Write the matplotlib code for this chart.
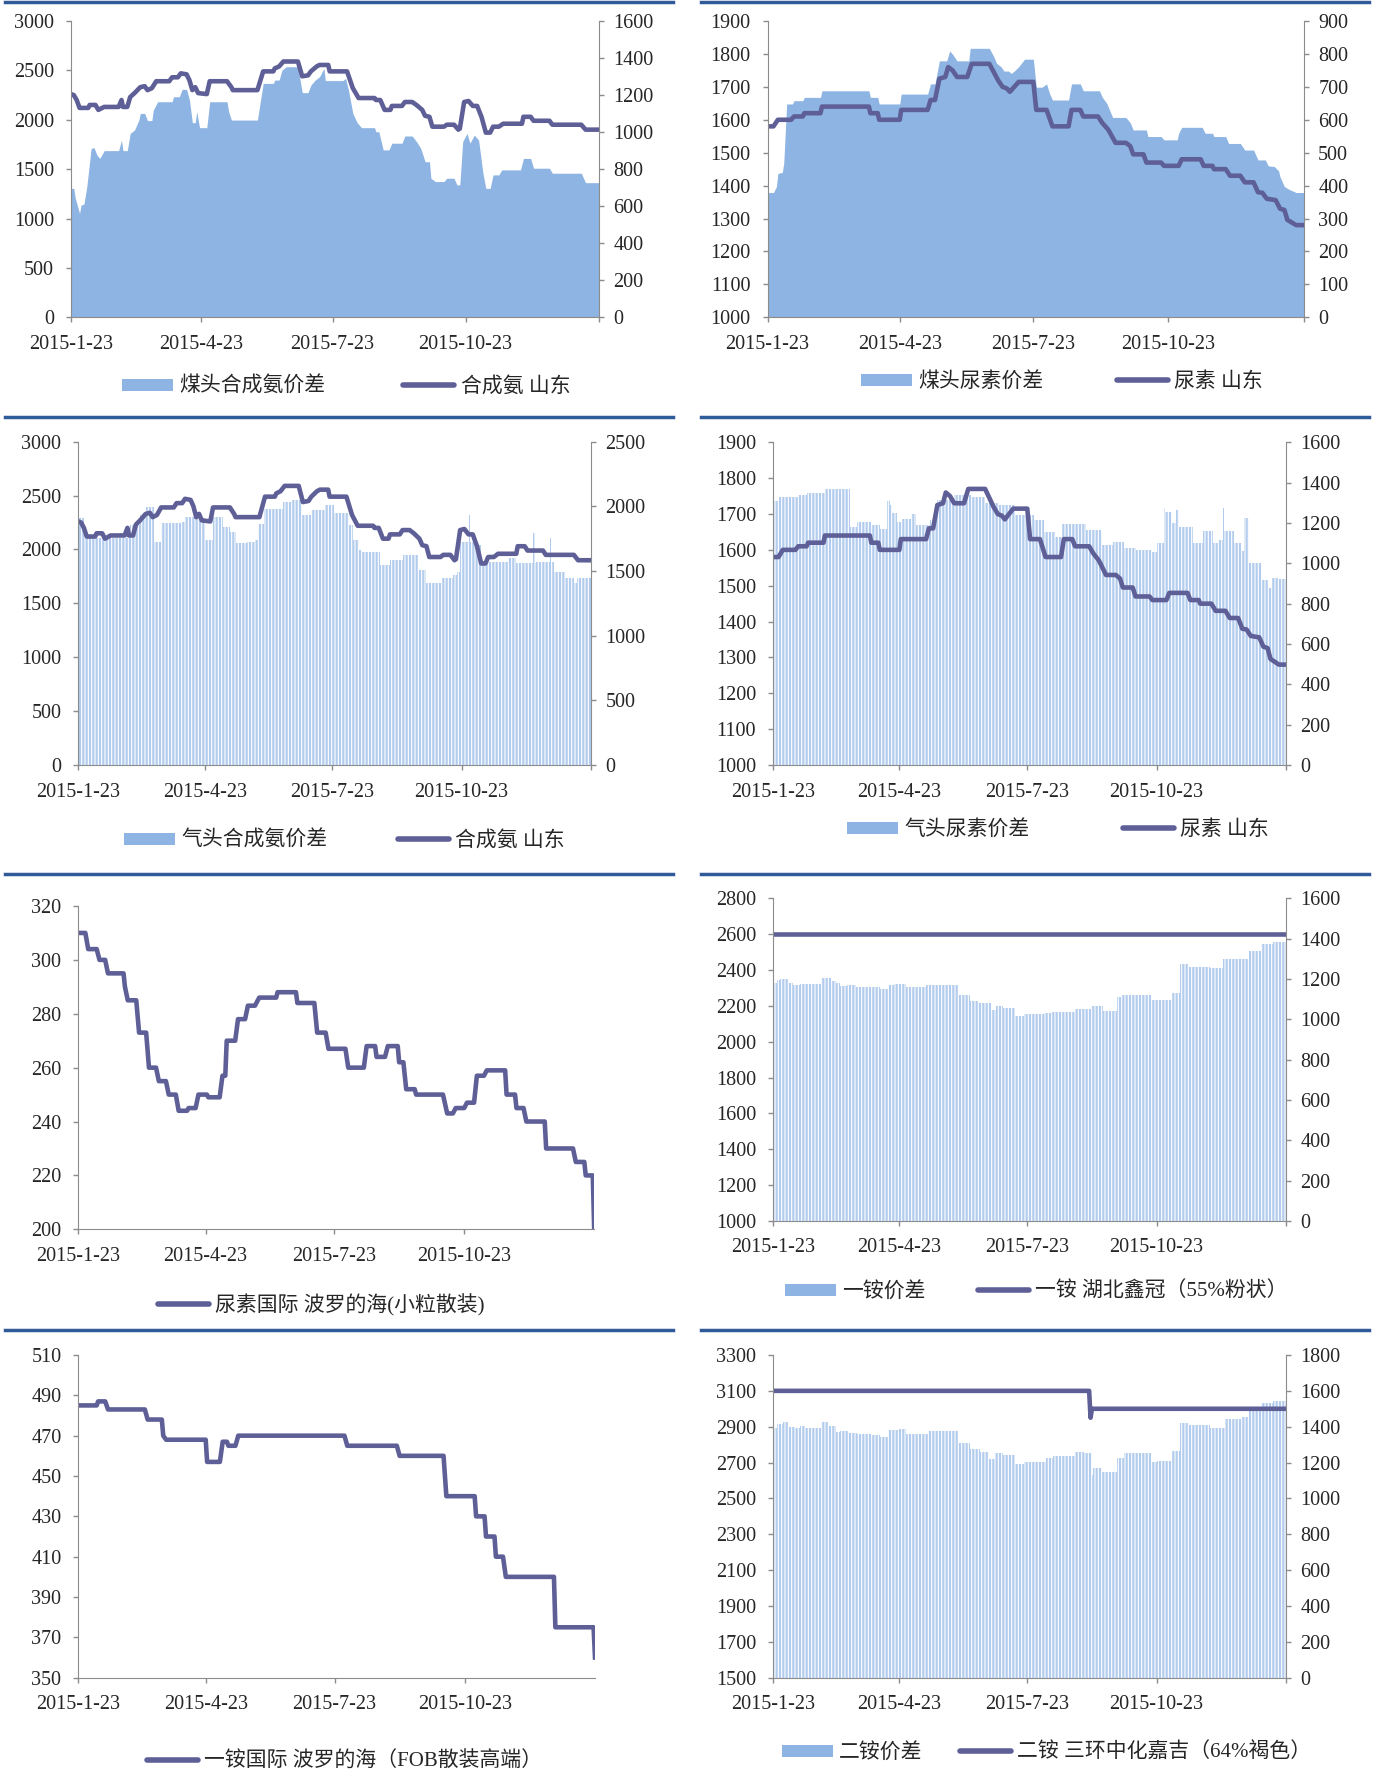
import numpy as np
import matplotlib
matplotlib.use('Agg')
import matplotlib.pyplot as plt
from matplotlib.lines import Line2D
from matplotlib.patches import Patch

plt.rcParams['font.family'] = ['Liberation Serif', 'Noto Sans CJK SC']
plt.rcParams['hatch.linewidth'] = 0.8

W, H = 1381, 1787

# ── x axis: days counted from 2015-01-23 ──────────────────────────────
TICK_DATES = np.array(['2015-01-23', '2015-04-23', '2015-07-23',
                       '2015-10-23', '2016-01-23'], dtype='datetime64[D]')
TICK_LABELS = ['2015-1-23', '2015-4-23', '2015-7-23', '2015-10-23', '']
TICK_DAYS = (TICK_DATES - TICK_DATES[0]).astype(int)

# ── series (day offset, value) ────────────────────────────────────────
# 合成氨 山东 (charts 1 and 3)
NH3_SD_DAY = [0, 2, 4, 6, 12, 13, 17, 19, 23, 33, 35, 36, 39, 41, 44, 48, 51, 53, 56, 59,
              68, 70, 74, 76, 80, 82, 84, 86, 88, 94, 96, 108, 111, 112, 129, 133, 140, 141, 144, 147,
              157, 160, 164, 166, 170, 172, 178, 179, 191, 195, 199, 210, 211, 214, 217, 221, 222, 229, 231, 236,
              239, 243, 245, 248, 250, 258, 260, 265, 268, 269, 272, 275, 278, 281, 284, 287, 290, 292, 296, 299,
              312, 313, 318, 320, 331, 333, 353, 356, 365]
NH3_SD_VAL = [2260, 2250, 2200, 2120, 2120, 2150, 2150, 2100, 2130, 2130, 2200, 2130, 2130, 2230, 2270, 2330, 2340, 2300, 2320, 2390,
              2390, 2430, 2430, 2470, 2460, 2400, 2300, 2330, 2270, 2260, 2390, 2390, 2330, 2300, 2300, 2490, 2490, 2520, 2540, 2590,
              2590, 2440, 2450, 2490, 2540, 2555, 2555, 2490, 2490, 2320, 2220, 2220, 2200, 2200, 2100, 2100, 2140, 2140, 2180, 2180,
              2150, 2100, 2040, 2030, 1930, 1930, 1950, 1950, 1900, 1910, 2180, 2190, 2140, 2140, 2030, 1870, 1870, 1930, 1930, 1960,
              1960, 2030, 2030, 1990, 1990, 1950, 1950, 1900, 1900]

# 煤头合成氨价差 (chart 1, area)
COAL_NH3_DAY = [0, 2, 3, 6, 7, 9, 11, 14, 16, 18, 20, 23, 33, 35, 36, 39, 41, 44, 47, 48,
                51, 53, 56, 57, 60, 70, 71, 75, 77, 80, 82, 84, 86, 87, 89, 94, 96, 108, 109, 111,
                129, 133, 140, 141, 144, 146, 149, 157, 160, 164, 166, 169, 172, 175, 176, 188, 190, 192, 195, 198,
                201, 210, 211, 213, 216, 220, 222, 229, 231, 236, 239, 242, 245, 248, 249, 252, 258, 260, 265, 267,
                269, 271, 274, 276, 279, 282, 285, 287, 290, 292, 296, 298, 311, 313, 318, 320, 331, 333, 353, 356, 365]
COAL_NH3_VAL = [696, 696, 643, 561, 606, 611, 705, 912, 916, 876, 858, 900, 900, 957, 900, 900, 993, 1011, 1065, 1101,
                1101, 1062, 1062, 1119, 1164, 1164, 1191, 1191, 1231, 1231, 1173, 1051, 1051, 1110, 1024, 1024, 1164, 1164, 1114, 1065,
                1065, 1263, 1263, 1281, 1281, 1335, 1353, 1353, 1213, 1213, 1254, 1281, 1299, 1344, 1278, 1278, 1290, 1227, 1101, 1051,
                1024, 1024, 1002, 1002, 904, 904, 940, 940, 979, 979, 949, 912, 840, 840, 751, 733, 733, 751, 751, 715,
                715, 949, 993, 940, 984, 957, 778, 696, 696, 769, 769, 796, 796, 858, 858, 805, 805, 778, 778, 727, 727]

# 尿素 山东 (charts 2 and 4)
UREA_SD_DAY = [0, 4, 7, 16, 18, 24, 25, 36, 37, 69, 70, 75, 76, 90, 91, 109, 111, 114, 117, 121,
               123, 126, 129, 136, 139, 151, 154, 157, 160, 163, 165, 168, 171, 181, 183, 190, 194, 205, 207, 213,
               215, 225, 228, 232, 237, 244, 247, 249, 256, 258, 268, 270, 280, 282, 295, 297, 303, 304, 312, 315,
               322, 325, 331, 334, 337, 340, 346, 349, 352, 354, 357, 360, 365]
UREA_SD_VAL = [1580, 1580, 1600, 1600, 1610, 1610, 1620, 1620, 1640, 1640, 1620, 1620, 1600, 1600, 1630, 1630, 1660, 1660, 1725, 1730,
               1760, 1750, 1730, 1730, 1770, 1770, 1745, 1720, 1700, 1695, 1685, 1700, 1715, 1715, 1630, 1630, 1580, 1580, 1630, 1630,
               1610, 1610, 1590, 1570, 1530, 1530, 1520, 1495, 1495, 1470, 1470, 1460, 1460, 1480, 1480, 1460, 1460, 1450, 1450, 1430,
               1430, 1410, 1410, 1380, 1378, 1360, 1356, 1330, 1326, 1296, 1288, 1280, 1280]

# 煤头尿素价差 (chart 2, area)
COAL_UREA_DAY = [0, 4, 6, 7, 10, 11, 13, 17, 18, 24, 25, 36, 37, 69, 70, 75, 76, 90, 91, 109,
                 111, 114, 117, 122, 124, 126, 129, 137, 138, 151, 154, 156, 159, 161, 164, 166, 168, 171, 175, 181,
                 183, 187, 190, 192, 194, 205, 207, 213, 215, 226, 228, 231, 235, 244, 247, 249, 258, 259, 268, 270,
                 279, 280, 282, 296, 298, 303, 304, 312, 314, 322, 325, 331, 334, 339, 341, 345, 348, 349, 352, 355,
                 360, 365]
COAL_UREA_VAL = [379, 379, 397, 437, 440, 468, 648, 648, 658, 658, 668, 668, 688, 688, 668, 668, 648, 648, 678, 678,
                 709, 709, 779, 779, 809, 799, 779, 779, 817, 817, 792, 771, 761, 748, 748, 741, 748, 761, 784, 784,
                 699, 699, 709, 680, 660, 660, 709, 709, 688, 688, 668, 650, 607, 607, 591, 569, 569, 549, 549, 539,
                 539, 559, 577, 577, 559, 559, 549, 549, 528, 528, 508, 508, 478, 478, 460, 458, 445, 427, 397, 389,
                 379, 379]

# 气头合成氨价差 (chart 3, bars)
GAS_NH3_DAY = [0, 4, 35, 37, 44, 48, 54, 59, 74, 76, 87, 90, 96, 103, 108, 112, 120, 126, 128, 132,
               146, 152, 159, 166, 176, 182, 193, 196, 200, 202, 215, 222, 231, 242, 248, 259, 267, 270, 272, 278,
               279, 283, 287, 306, 312, 324, 325, 326, 336, 337, 339, 347, 353, 355, 365]
GAS_NH3_VAL = [1907, 1752, 1752, 1855, 1933, 1997, 1727, 1868, 1881, 1920, 1910, 1739, 1920, 1843, 1800, 1714, 1725, 1740, 1860, 1977,
               2030, 2049, 1933, 1971, 2010, 1951, 1855, 1740, 1662, 1649, 1546, 1585, 1624, 1507, 1404, 1443, 1470, 1495, 1727, 1933,
               1727, 1700, 1572, 1598, 1559, 1791, 1559, 1572, 1752, 1572, 1495, 1443, 1404, 1443, 1443]

# 气头尿素价差 (chart 4, bars)
GAS_UREA_DAY = [0, 4, 18, 24, 37, 55, 60, 70, 76, 81, 83, 85, 88, 92, 98, 102, 112, 117, 129, 142,
                151, 160, 172, 186, 193, 201, 206, 223, 234, 242, 250, 258, 269, 273, 278, 279, 284, 287, 289, 299,
                306, 313, 317, 320, 321, 328, 333, 335, 339, 347, 352, 355, 360, 365]
GAS_UREA_VAL = [1309, 1327, 1339, 1351, 1369, 1179, 1207, 1190, 1169, 1309, 1289, 1250, 1207, 1220, 1243, 1190, 1215, 1314, 1339, 1327,
                1298, 1289, 1240, 1215, 1157, 1132, 1193, 1165, 1091, 1108, 1078, 1066, 1058, 1099, 1276, 1256, 1198, 1265, 1182, 1099,
                1160, 1099, 1116, 1273, 1160, 1103, 1061, 1227, 1003, 917, 876, 926, 921, 921]

# 尿素国际 波罗的海(小粒散装) (chart 5)
UREA_INT_DAY = [0, 5, 7, 13, 15, 19, 21, 32, 33, 35, 41, 43, 48, 50, 55, 57, 62, 64, 69, 71,
                77, 78, 83, 85, 91, 92, 100, 102, 104, 105, 111, 113, 118, 120, 125, 128, 140, 141, 154, 155,
                167, 169, 175, 177, 189, 191, 202, 204, 210, 211, 217, 219, 226, 227, 230, 232, 238, 239, 258, 261,
                265, 267, 273, 275, 280, 282, 287, 289, 302, 303, 309, 310, 315, 317, 330, 331, 350, 352, 358, 359,
                364, 365]
UREA_INT_VAL = [310, 310, 304, 304, 300, 300, 295, 295, 290, 285, 285, 273, 273, 260, 260, 255, 255, 250, 250, 244,
                244, 245, 245, 250, 250, 249, 249, 257, 257, 270, 270, 278, 278, 283, 283, 286, 286, 288, 288, 284,
                284, 273, 273, 267, 267, 260, 260, 268, 268, 264, 264, 268, 268, 262, 262, 252, 252, 250, 250, 243,
                243, 245, 245, 247, 247, 257, 257, 259, 259, 250, 250, 245, 245, 240, 240, 230, 230, 225, 225, 220,
                220, 200]

# 一铵 湖北鑫冠（55%粉状） and 一铵价差 (chart 6)
MAP_HB_DAY = [0, 365]
MAP_HB_VAL = [2600, 2600]
MAP_SPREAD_DAY = [0, 3, 5, 11, 14, 19, 34, 41, 45, 48, 53, 59, 76, 82, 86, 95, 109, 132, 140, 146,
                  155, 159, 164, 172, 179, 193, 198, 215, 226, 235, 245, 248, 269, 284, 290, 295, 311, 320, 339, 347,
                  356, 365]
MAP_SPREAD_VAL = [1182, 1195, 1200, 1179, 1170, 1175, 1203, 1190, 1182, 1167, 1170, 1159, 1149, 1170, 1175, 1159, 1169, 1121, 1093, 1083,
                  1046, 1066, 1058, 1017, 1025, 1030, 1035, 1050, 1068, 1043, 1109, 1121, 1096, 1129, 1274, 1261, 1253, 1298, 1341, 1374,
                  1382, 1382]

# 一铵国际 波罗的海（FOB散装高端） (chart 7)
MAP_INT_DAY = [0, 13, 14, 19, 21, 47, 49, 59, 60, 62, 90, 91, 100, 102, 105, 106, 111, 113, 188, 190,
               225, 227, 258, 260, 280, 281, 287, 288, 294, 295, 300, 302, 336, 337, 364, 365]
MAP_INT_VAL = [485, 485, 487, 487, 483, 483, 478, 478, 470, 468, 468, 457, 457, 467, 467, 465, 465, 470, 470, 465,
               465, 460, 460, 440, 440, 430, 430, 420, 420, 410, 410, 400, 400, 375, 375, 360]

# 二铵 三环中化嘉吉（64%褐色） and 二铵价差 (chart 8)
DAP_SH_DAY = [0, 225, 226, 227, 365]
DAP_SH_VAL = [3100, 3100, 2950, 3000, 3000]
DAP_SPREAD_DAY = [0, 3, 7, 11, 16, 19, 23, 34, 39, 45, 48, 54, 60, 70, 76, 82, 89, 95, 110, 132,
                  140, 147, 154, 158, 164, 172, 179, 194, 199, 215, 221, 226, 227, 228, 234, 245, 250, 269, 273, 284,
                  290, 296, 311, 322, 333, 339, 347, 356, 365]
DAP_SPREAD_VAL = [1395, 1413, 1424, 1398, 1391, 1404, 1395, 1428, 1404, 1372, 1376, 1363, 1357, 1353, 1344, 1380, 1385, 1357, 1376, 1311,
                  1274, 1261, 1218, 1251, 1240, 1190, 1203, 1227, 1237, 1261, 1255, 1279, 1131, 1172, 1149, 1227, 1251, 1201, 1209, 1264,
                  1419, 1409, 1395, 1443, 1452, 1502, 1530, 1543, 1543]

# ── style ─────────────────────────────────────────────────────────────
LINE_C = '#5f5f98'
AREA_C = '#8db4e2'
BAR_C = '#b3ccee'
SPINE_C = '#8c8c8c'
RULE_C = '#2f5b98'
TEXT_C = '#262626'

fig = plt.figure(figsize=(W / 100, H / 100), dpi=100)


def style_y(ax, lim, step, side):
    ax.set_ylim(*lim)
    ax.set_yticks(np.arange(lim[0], lim[1] + 1, step))
    ax.tick_params(axis='y', direction='out', length=3.6, width=1.0,
                   color=SPINE_C, labelsize=14.5, labelcolor=TEXT_C,
                   pad=8.5 if side == 'left' else 7)


def panel(px, left_lim, left_step, line, fill=None, right=None,
          legend_xy=(0, 0), colsp=3.0, end_tick=True):
    l, r, t, b = px
    ax = fig.add_axes([l / W, 1 - b / H, (r - l) / W, (b - t) / H])
    handles = []
    if fill is not None:
        kind, fday, fval, flabel = fill
        ax2 = ax.twinx()
        if kind == 'area':
            ax2.fill_between(fday, 0, fval, color=AREA_C, lw=0)
        else:
            ax2.fill_between(fday, 0, fval, step='post', facecolor=BAR_C,
                             edgecolor='white', lw=0, hatch='|||||')
        style_y(ax2, right[0], right[1], 'right')
        for s in ('top', 'left', 'bottom'):
            ax2.spines[s].set_visible(False)
        ax2.spines['right'].set_color(SPINE_C)
        ax.set_zorder(ax2.get_zorder() + 1)
        ax.patch.set_visible(False)
        handles.append(Patch(facecolor=AREA_C, edgecolor='none', label=flabel))
    else:
        ax.spines['right'].set_visible(False)

    lday, lval, llabel = line
    ax.plot(lday, lval, color=LINE_C, lw=3.3, solid_joinstyle='round')
    handles.append(Line2D([], [], color=LINE_C, lw=4,
                          solid_capstyle='round', label=llabel))

    style_y(ax, left_lim, left_step, 'left')
    ax.spines['top'].set_visible(False)
    if fill is not None:
        ax.spines['right'].set_visible(False)
    for s in ('left', 'bottom'):
        ax.spines[s].set_color(SPINE_C)
    n = 5 if end_tick else 4
    ax.set_xticks(TICK_DAYS[:n])
    ax.set_xticklabels(TICK_LABELS[:n])
    ax.set_xlim(TICK_DAYS[0], TICK_DAYS[-1])
    ax.tick_params(axis='x', direction='out', length=3.6, width=1.0,
                   color=SPINE_C, labelsize=14.5, labelcolor=TEXT_C, pad=9)

    fig.legend(handles=handles, loc='center',
               bbox_to_anchor=(legend_xy[0] / W, 1 - legend_xy[1] / H),
               ncol=len(handles), frameon=False, fontsize=15,
               handlelength=2.45, handleheight=0.5, handletextpad=0.3,
               columnspacing=colsp, labelcolor=TEXT_C)
    return ax


panel((70.9, 598.6, 21, 317.3), (0, 3000), 500,
      (NH3_SD_DAY, NH3_SD_VAL, '合成氨 山东'),
      fill=('area', COAL_NH3_DAY, COAL_NH3_VAL, '煤头合成氨价差'),
      right=((0, 1600), 200), legend_xy=(346, 387), colsp=3.75)

panel((767.6, 1303.5, 21, 317.3), (1000, 1900), 100,
      (UREA_SD_DAY, UREA_SD_VAL, '尿素 山东'),
      fill=('area', COAL_UREA_DAY, COAL_UREA_VAL, '煤头尿素价差'),
      right=((0, 900), 100), legend_xy=(1062, 382), colsp=3.5)

panel((78.3, 590.7, 441.7, 765), (0, 3000), 500,
      (NH3_SD_DAY, NH3_SD_VAL, '合成氨 山东'),
      fill=('bar', GAS_NH3_DAY, GAS_NH3_VAL, '气头合成氨价差'),
      right=((0, 2500), 500), legend_xy=(344.5, 841), colsp=3.4)

panel((772.9, 1285.9, 442.3, 765), (1000, 1900), 100,
      (UREA_SD_DAY, UREA_SD_VAL, '尿素 山东'),
      fill=('bar', GAS_UREA_DAY, GAS_UREA_VAL, '气头尿素价差'),
      right=((0, 1600), 200), legend_xy=(1058, 830), colsp=4.5)

panel((78.3, 594.2, 906, 1229.3), (200, 320), 20,
      (UREA_INT_DAY, UREA_INT_VAL, '尿素国际 波罗的海(小粒散装)'),
      legend_xy=(321.5, 1305), end_tick=False)

panel((772.9, 1285.9, 898.3, 1221), (1000, 2800), 200,
      (MAP_HB_DAY, MAP_HB_VAL, '一铵 湖北鑫冠（55%粉状）'),
      fill=('bar', MAP_SPREAD_DAY, MAP_SPREAD_VAL, '一铵价差'),
      right=((0, 1600), 200), legend_xy=(1036, 1292), colsp=2.5)

panel((78.3, 595, 1355, 1677.7), (350, 510), 20,
      (MAP_INT_DAY, MAP_INT_VAL, '一铵国际 波罗的海（FOB散装高端）'),
      legend_xy=(344.5, 1762), end_tick=False)

panel((772.9, 1285.9, 1355, 1677.7), (1500, 3300), 200,
      (DAP_SH_DAY, DAP_SH_VAL, '二铵 三环中化嘉吉（64%褐色）'),
      fill=('bar', DAP_SPREAD_DAY, DAP_SPREAD_VAL, '二铵价差'),
      right=((0, 1800), 200), legend_xy=(1046.5, 1753), colsp=1.8)

# blue rules between panel rows
for y in (1.5, 417, 874, 1330):
    for x0, x1 in ((5, 673), (701, 1369)):
        fig.add_artist(Line2D([x0 / W, x1 / W], [1 - y / H, 1 - y / H],
                              transform=fig.transFigure, color=RULE_C, lw=2.5))

fig.savefig('out.png', dpi=100)
